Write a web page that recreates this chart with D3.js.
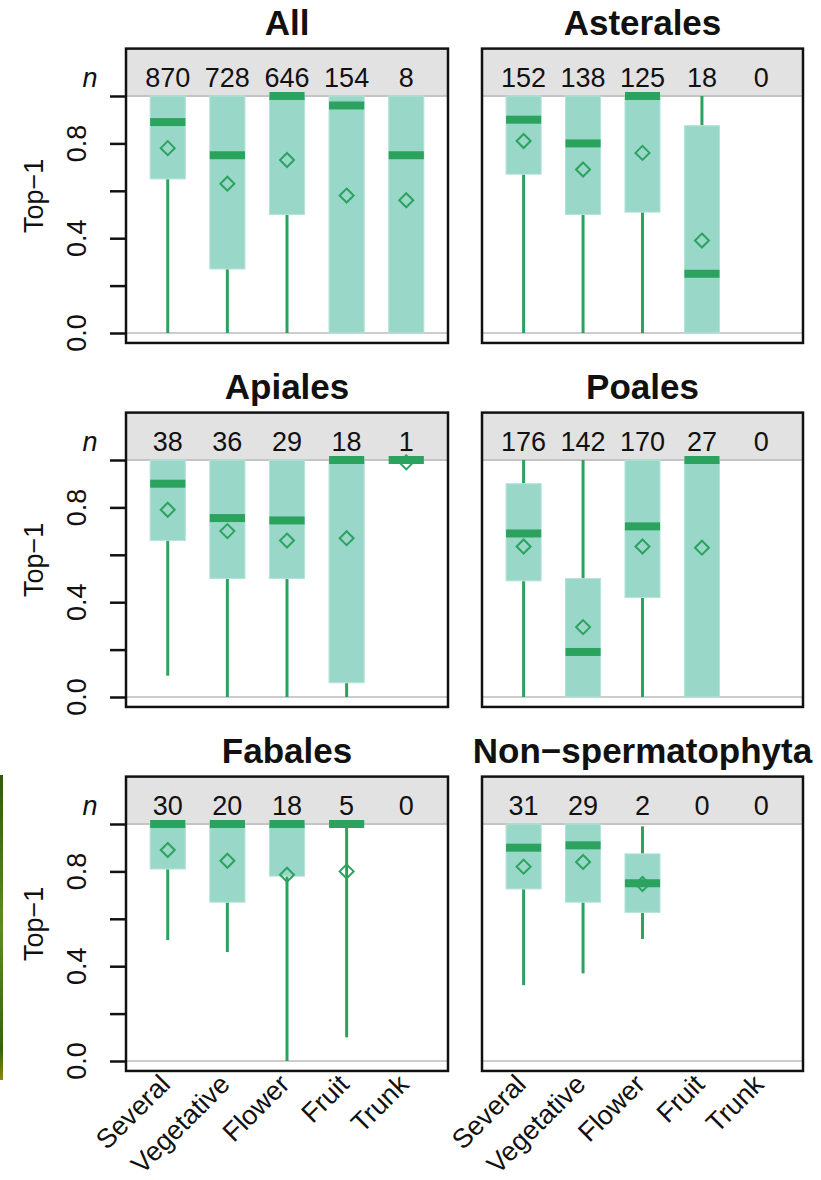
<!DOCTYPE html>
<html>
<head>
<meta charset="utf-8">
<script src="https://cdn.jsdelivr.net/npm/d3@7"></script>
<style>
  body { margin: 0; background: #fff; }
  text { font-family: "Liberation Sans", Arial, sans-serif; fill: #111; }
</style>
</head>
<body>
<div id="chart"></div>
<script>
// panels and categories
var panels = ["All", "Asterales", "Apiales", "Poales", "Fabales", "Non\u2212spermatophyta"];
var organs = ["Several", "Vegetative", "Flower", "Fruit", "Trunk"];

// sample sizes shown in the grey strip
var counts = [
    [870, 728, 646, 154, 8],
    [152, 138, 125, 18, 0],
    [38, 36, 29, 18, 1],
    [176, 142, 170, 27, 0],
    [30, 20, 18, 5, 0],
    [31, 29, 2, 0, 0]
];

// box statistics, one row per panel (null = no data)
var q3 = [
    [1, 1, 1, 1, 1],
    [1, 1, 1, 0.875, null],
    [1, 1, 1, 1, 1],
    [0.90, 0.50, 1, 1, null],
    [1, 1, 1, 1, null],
    [1, 1, 0.874, null, null]
];
var q1 = [
    [0.65, 0.27, 0.50, 0, 0],
    [0.67, 0.50, 0.51, 0, null],
    [0.66, 0.50, 0.50, 0.06, 1],
    [0.49, 0, 0.42, 0, null],
    [0.81, 0.67, 0.78, 1, null],
    [0.726, 0.67, 0.627, null, null]
];
var medians = [
    [0.89, 0.75, 1, 0.96, 0.75],
    [0.90, 0.80, 1, 0.25, null],
    [0.90, 0.755, 0.745, 1, 1],
    [0.69, 0.19, 0.72, 1, null],
    [1, 1, 1, 1, null],
    [0.90, 0.91, 0.75, null, null]
];
var means = [
    [0.78, 0.63, 0.73, 0.58, 0.56],
    [0.81, 0.69, 0.76, 0.39, null],
    [0.79, 0.70, 0.66, 0.67, 0.99],
    [0.635, 0.295, 0.635, 0.63, null],
    [0.89, 0.845, 0.786, 0.80, null],
    [0.82, 0.84, 0.747, null, null]
];
var whiskLow = [
    [0, 0, 0, 0, 0],
    [0, 0, 0, 0, null],
    [0.09, 0, 0, 0, 1],
    [0, 0, 0, 0, null],
    [0.51, 0.46, 0, 0.10, null],
    [0.32, 0.37, 0.515, null, null]
];
var whiskHigh = [
    [1, 1, 1, 1, 1],
    [1, 1, 1, 1, null],
    [1, 1, 1, 1, 1],
    [1, 1, 1, 1, null],
    [1, 1, 1, 1, null],
    [1, 1, 0.99, null, null]
];

var yTicks = [0, 0.2, 0.4, 0.6, 0.8, 1.0];
var yLabels = [0, 0.4, 0.8];

var width = 821, height = 1180;
var boxFill = "#99d8c9", dark = "#2ca25f";

var svg = d3.select("#chart").append("svg")
    .attr("width", width)
    .attr("height", height);

svg.append("rect").attr("width", width).attr("height", height).attr("fill", "#fff");

// thin green strip along the left edge of the source image
var grad = svg.append("defs").append("linearGradient")
    .attr("id", "edge").attr("x1", 0).attr("x2", 0).attr("y1", 0).attr("y2", 1);
grad.append("stop").attr("offset", "0%").attr("stop-color", "#2f5a0c");
grad.append("stop").attr("offset", "50%").attr("stop-color", "#5d8a28");
grad.append("stop").attr("offset", "90%").attr("stop-color", "#35620f");
grad.append("stop").attr("offset", "100%").attr("stop-color", "#8a8a10");
svg.append("rect")
    .attr("x", 0).attr("y", 775)
    .attr("width", 3).attr("height", 305)
    .attr("fill", "url(#edge)");

var colX = [[126, 448], [482, 803]];
var rowOff = [0, 364, 728];

panels.forEach(function(name, p) {
    var col = p % 2, row = Math.floor(p / 2);
    var off = rowOff[row];

    var x = d3.scaleLinear().domain([0.3, 5.7]).range(colX[col]);
    var y = d3.scaleLinear().domain([0, 1]).range([333 + off, 96 + off]);
    var top = y(1.2), bottom = y(-0.042);
    var left = colX[col][0], right = colX[col][1];
    var bw = x(1.59) - x(1);

    var g = svg.append("g").attr("class", "panel");

    // grey strip for n
    g.append("rect")
        .attr("x", left).attr("y", top)
        .attr("width", right - left).attr("height", y(1) - top)
        .attr("fill", "#e2e2e2");
    g.append("line")
        .attr("x1", left).attr("x2", right)
        .attr("y1", y(1)).attr("y2", y(1))
        .attr("stroke", "#c4c4c4").attr("stroke-width", 2);
    g.append("line")
        .attr("x1", left).attr("x2", right)
        .attr("y1", y(0)).attr("y2", y(0))
        .attr("stroke", "#cccccc").attr("stroke-width", 2);

    organs.forEach(function(o, i) {
        var cx = x(i + 1);

        g.append("text")
            .attr("x", cx).attr("y", 87 + off)
            .attr("text-anchor", "middle")
            .style("font-size", "27px")
            .text(counts[p][i]);

        if (medians[p][i] === null) return;

        // whiskers
        g.append("line")
            .attr("x1", cx).attr("x2", cx)
            .attr("y1", y(whiskLow[p][i])).attr("y2", y(q1[p][i]))
            .attr("stroke", dark).attr("stroke-width", 3);
        g.append("line")
            .attr("x1", cx).attr("x2", cx)
            .attr("y1", y(q3[p][i])).attr("y2", y(whiskHigh[p][i]))
            .attr("stroke", dark).attr("stroke-width", 3);

        // box
        g.append("rect")
            .attr("x", cx - bw / 2).attr("y", y(q3[p][i]))
            .attr("width", bw).attr("height", y(q1[p][i]) - y(q3[p][i]))
            .attr("fill", boxFill)
            .attr("stroke", "#b5e3d7").attr("stroke-width", 1);

        // median
        g.append("rect")
            .attr("x", cx - bw / 2).attr("y", y(medians[p][i]) - 4)
            .attr("width", bw).attr("height", 8)
            .attr("fill", dark);

        // mean
        var m = y(means[p][i]);
        g.append("path")
            .attr("d", "M" + cx + "," + (m - 7) + "L" + (cx + 7) + "," + m +
                "L" + cx + "," + (m + 7) + "L" + (cx - 7) + "," + m + "Z")
            .attr("fill", "none")
            .attr("stroke", dark).attr("stroke-width", 2);
    });

    // frame
    g.append("rect")
        .attr("x", left).attr("y", top)
        .attr("width", right - left).attr("height", bottom - top)
        .attr("fill", "none")
        .attr("stroke", "#111").attr("stroke-width", 2.5);

    // title
    g.append("text")
        .attr("x", (left + right) / 2).attr("y", 35 + off)
        .attr("text-anchor", "middle")
        .style("font-size", "35px")
        .style("font-weight", "bold")
        .text(name);

    if (col === 0) {
        var axis = d3.axisLeft(y)
            .tickValues(yTicks)
            .tickSize(16)
            .tickFormat("");
        var ag = g.append("g")
            .attr("transform", "translate(" + left + ",0)")
            .call(axis);
        ag.select(".domain").remove();
        ag.selectAll("line").attr("stroke", "#111").attr("stroke-width", 2.5);

        yLabels.forEach(function(v) {
            g.append("text")
                .attr("transform", "translate(86," + y(v) + ") rotate(-90)")
                .attr("text-anchor", "middle")
                .style("font-size", "27px")
                .text(v.toFixed(1));
        });

        g.append("text")
            .attr("transform", "translate(43," + ((top + bottom) / 2) + ") rotate(-90)")
            .attr("text-anchor", "middle")
            .style("font-size", "27px")
            .text("Top\u22121");

        g.append("text")
            .attr("x", 90).attr("y", 87 + off)
            .attr("text-anchor", "middle")
            .style("font-size", "27px")
            .style("font-style", "italic")
            .text("n");
    }

    if (row === 2) {
        organs.forEach(function(o, i) {
            g.append("text")
                .attr("transform", "translate(" + (x(i + 1) + 4) + ",1086) rotate(-45)")
                .attr("text-anchor", "end")
                .style("font-size", "27px")
                .text(o);
        });
    }
});
</script>
</body>
</html>
